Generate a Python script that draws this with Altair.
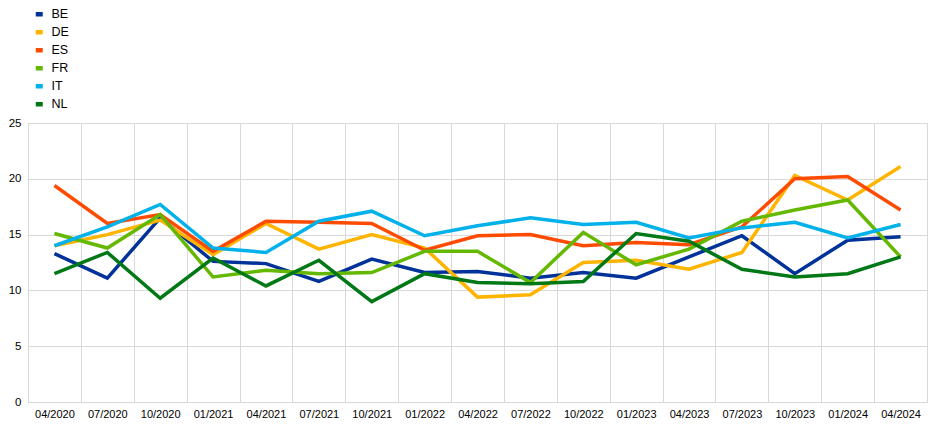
import altair as alt
import pandas as pd

quarters = ["04/2020", "07/2020", "10/2020", "01/2021", "04/2021", "07/2021", "10/2021",
            "01/2022", "04/2022", "07/2022", "10/2022", "01/2023", "04/2023", "07/2023",
            "10/2023", "01/2024", "04/2024"]

countries = ["BE", "DE", "ES", "FR", "IT", "NL"]
colors = ["#003299", "#FFB400", "#FF4B00", "#65B800", "#00B1EA", "#007816"]

BE = [13.3, 11.1, 16.5, 12.6, 12.4, 10.8, 12.8, 11.6, 11.7, 11.1, 11.6, 11.1, 13.0, 14.9, 11.5, 14.5, 14.8]
DE = [14.0, 15.0, 16.3, 13.2, 16.0, 13.7, 15.0, 13.8, 9.4, 9.6, 12.5, 12.7, 11.9, 13.4, 20.3, 18.1, 21.1]
ES = [19.4, 16.0, 16.8, 13.5, 16.2, 16.1, 16.0, 13.6, 14.9, 15.0, 14.0, 14.3, 14.1, 15.7, 20.0, 20.2, 17.2]
FR = [15.1, 13.8, 16.8, 11.2, 11.8, 11.5, 11.6, 13.5, 13.5, 10.7, 15.2, 12.3, 13.7, 16.2, 17.2, 18.1, 13.0]
IT = [14.0, 15.7, 17.7, 13.8, 13.4, 16.2, 17.1, 14.9, 15.8, 16.5, 15.9, 16.1, 14.7, 15.6, 16.1, 14.7, 15.9]
NL = [11.5, 13.4, 9.3, 12.9, 10.4, 12.7, 9.0, 11.5, 10.7, 10.6, 10.8, 15.1, 14.4, 11.9, 11.2, 11.5, 13.0]

series = {"BE": BE, "DE": DE, "ES": ES, "FR": FR, "IT": IT, "NL": NL}

rows = []
for c in countries:
    for i, q in enumerate(quarters):
        rows.append({"quarter": q, "country": c, "value": series[c][i], "order": countries.index(c)})
df = pd.DataFrame(rows)

chart = alt.Chart(df).mark_line(strokeWidth=3.5).encode(
    x=alt.X("quarter:N", sort=quarters, title=None,
            scale=alt.Scale(paddingInner=0, paddingOuter=0),
            axis=alt.Axis(labelAngle=0, tickBand="extent", ticks=False, domain=False,
                          grid=True, gridColor="#d9d9d9", labelFontSize=11,
                          labelFont="Liberation Sans", labelColor="#000000", labelPadding=6)),
    y=alt.Y("value:Q", title=None,
            scale=alt.Scale(domain=[0, 25], nice=False),
            axis=alt.Axis(values=[0, 5, 10, 15, 20, 25], ticks=False, domain=False,
                          gridColor="#d9d9d9", labelFontSize=11.5, labelFont="Liberation Sans",
                          labelColor="#000000", labelPadding=7)),
    color=alt.Color("country:N", sort=countries,
                    scale=alt.Scale(domain=countries, range=colors),
                    legend=alt.Legend(title=None, orient="none", legendX=5, legendY=-115,
                                      direction="vertical", symbolType="stroke",
                                      symbolStrokeWidth=4.5, symbolSize=49,
                                      labelFontSize=12.5,
                                      labelFont="Liberation Sans", labelColor="#000000",
                                      rowPadding=-1, labelOffset=6)),
    order=alt.Order("order:Q"),
).properties(
    width=899, height=279,
    autosize=alt.AutoSizeParams(type="none"),
    padding={"left": 20, "top": 115, "right": 10, "bottom": 30},
).configure_view(stroke="#d9d9d9")

chart.save("out.html", embed_options={"renderer": "svg", "actions": False})
